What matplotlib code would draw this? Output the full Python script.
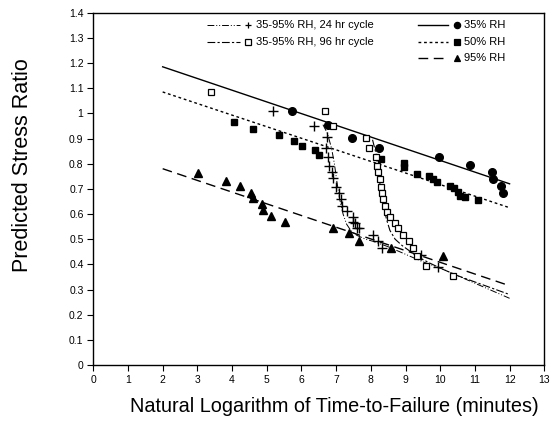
import matplotlib
matplotlib.use("Agg")
import matplotlib.pyplot as plt
from matplotlib.ticker import FuncFormatter

plt.rcParams["font.family"] = ["Liberation Sans", "DejaVu Sans"]

# ── Data ────────────────────────────────────────────────────────────────────
line_x = [2, 12]
rh35_line = [1.185, 0.72]
rh50_line = [1.085, 0.625]
rh95_line = [0.78, 0.315]

cyc24_x = [6.62, 6.75, 6.87, 6.95, 7.02, 7.1, 7.2, 7.3, 7.42, 7.6, 7.85, 8.1, 8.5, 9.0, 9.5, 10.0, 10.5, 11.0, 11.5, 12.0]
cyc24_y = [0.955, 0.92, 0.86, 0.80, 0.73, 0.66, 0.60, 0.56, 0.535, 0.515, 0.50, 0.49, 0.47, 0.44, 0.41, 0.385, 0.355, 0.325, 0.295, 0.265]

cyc96_x = [8.05, 8.15, 8.22, 8.28, 8.36, 8.45, 8.55, 8.7, 8.9, 9.1, 9.35, 9.7, 10.0, 10.5, 11.0, 11.5, 12.0]
cyc96_y = [0.895, 0.84, 0.77, 0.70, 0.64, 0.58, 0.535, 0.50, 0.475, 0.455, 0.43, 0.405, 0.385, 0.355, 0.33, 0.305, 0.28]

rh35_x = [5.72, 6.77, 7.46, 8.23, 9.96, 10.86, 11.5, 11.53, 11.75, 11.82]
rh35_y = [1.01, 0.954, 0.903, 0.861, 0.828, 0.795, 0.766, 0.738, 0.713, 0.685]

rh50_x = [4.05, 4.61, 5.36, 5.78, 6.03, 6.39, 6.51, 8.28, 8.95, 8.95, 9.34, 9.67, 9.8, 9.92, 10.28, 10.4, 10.52, 10.57, 10.71, 11.08]
rh50_y = [0.965, 0.937, 0.914, 0.891, 0.872, 0.854, 0.835, 0.819, 0.804, 0.786, 0.759, 0.752, 0.739, 0.729, 0.713, 0.702, 0.689, 0.673, 0.666, 0.656]

rh95_x = [3.03, 3.82, 4.23, 4.56, 4.61, 4.85, 4.88, 5.12, 5.52, 6.9, 7.38, 7.67, 8.58, 10.07]
rh95_y = [0.762, 0.733, 0.711, 0.685, 0.662, 0.64, 0.616, 0.592, 0.57, 0.543, 0.523, 0.494, 0.464, 0.433]

plus24_x = [5.17, 6.36, 6.73, 6.7, 6.77, 6.8, 6.87, 6.9, 7.01, 7.08, 7.14, 7.16, 7.3, 7.49, 7.49, 7.54, 7.61, 7.66, 8.07, 8.21, 8.33, 9.46, 9.94]
plus24_y = [1.01, 0.951, 0.905, 0.864, 0.828, 0.792, 0.766, 0.742, 0.706, 0.682, 0.659, 0.633, 0.612, 0.59, 0.57, 0.563, 0.543, 0.543, 0.517, 0.494, 0.464, 0.437, 0.391]

sq96_x = [3.38, 6.68, 6.92, 7.86, 7.95, 8.15, 8.18, 8.21, 8.26, 8.29, 8.31, 8.36, 8.41, 8.47, 8.55, 8.69, 8.77, 8.93, 9.11, 9.22, 9.32, 9.58, 10.37]
sq96_y = [1.084, 1.01, 0.951, 0.903, 0.864, 0.828, 0.792, 0.766, 0.739, 0.709, 0.682, 0.659, 0.632, 0.609, 0.587, 0.566, 0.543, 0.517, 0.494, 0.466, 0.433, 0.393, 0.354]

x_ticks = list(range(0, 14))
y_ticks = [round(0.1 * i, 1) for i in range(0, 15)]

# ── Styles ──────────────────────────────────────────────────────────────────
LS_24 = (0, (7, 2, 1, 2, 1, 2))
LS_96 = (0, (7, 2, 2, 2))
LS_50 = (0, (2, 2))
LS_95 = (0, (7, 4))

fig = plt.figure(figsize=(5.52, 4.26), dpi=100)
ax = fig.add_axes([0.169, 0.1432, 0.817, 0.827])

ax.plot(line_x, rh35_line, color="black", lw=1.0, ls="-")
ax.plot(line_x, rh50_line, color="black", lw=1.0, ls=LS_50)
ax.plot(line_x, rh95_line, color="black", lw=1.0, ls=LS_95)
ax.plot(cyc24_x, cyc24_y, color="black", lw=0.7, ls=LS_24)
ax.plot(cyc96_x, cyc96_y, color="black", lw=0.8, ls=LS_96)

ax.plot(rh35_x, rh35_y, "o", color="black", ms=5.5, ls="none")
ax.plot(rh50_x, rh50_y, "s", color="black", ms=5, ls="none")
ax.plot(rh95_x, rh95_y, "^", color="black", ms=6, ls="none")
ax.plot(plus24_x, plus24_y, "+", color="black", ms=6.5, mew=1.0, ls="none")
ax.plot(sq96_x, sq96_y, "s", mfc="white", mec="black", ms=5, mew=0.9, ls="none")

# legend drawn by hand (line segment, marker, label)
legend_rows = [
    (3.27, 4.23, 4.47, 1.351, LS_24, 0.7, "+", "black", "35-95% RH, 24 hr cycle"),
    (3.27, 4.23, 4.47, 1.285, LS_96, 0.8, "s", "white", "35-95% RH, 96 hr cycle"),
    (9.37, 10.23, 10.47, 1.351, "-", 1.0, "o", "black", "35% RH"),
    (9.37, 10.23, 10.47, 1.285, LS_50, 1.0, "s", "black", "50% RH"),
    (9.37, 10.23, 10.47, 1.220, LS_95, 1.0, "^", "black", "95% RH"),
]
for x0, x1, xm, y, ls, lw, mk, fc, label in legend_rows:
    ax.plot([x0, x1], [y, y], color="black", lw=lw, ls=ls)
    ax.plot([xm], [y], mk, mfc=fc, mec="black", color="black", ms=4.5, mew=0.9)
    ax.text(xm + 0.22, y, label, fontsize=8, va="center", ha="left")

ax.set_xlim(0, 13)
ax.set_ylim(0, 1.4)
ax.set_xticks(x_ticks)
ax.set_yticks(y_ticks)
ax.yaxis.set_major_formatter(FuncFormatter(lambda v, p: f"{v:g}"))
ax.tick_params(direction="out", length=4, width=0.8, labelsize=7.5, pad=3)
for s in ax.spines.values():
    s.set_linewidth(1.0)

ax.set_xlabel("Natural Logarithm of Time-to-Failure (minutes)", fontsize=14.3)
ax.xaxis.set_label_coords(0.535, -0.092)
ax.set_ylabel("Predicted Stress Ratio", fontsize=15.5)
ax.yaxis.set_label_coords(-0.134, 0.568)

fig.savefig("out.png", dpi=100)
